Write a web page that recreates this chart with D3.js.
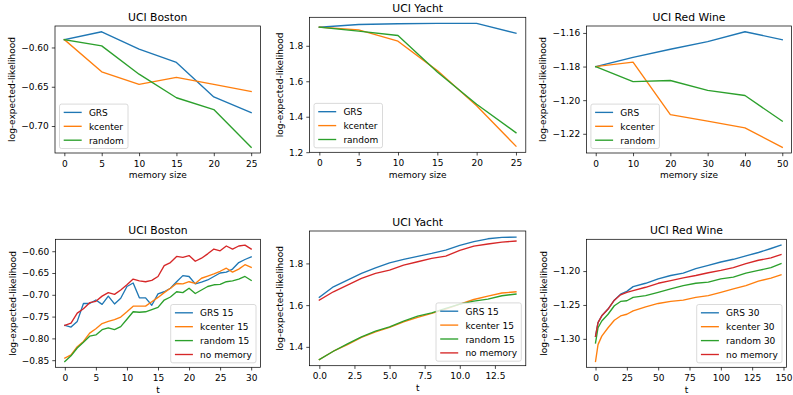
<!DOCTYPE html>
<html>
<head>
<meta charset="utf-8">
<script src="https://cdn.jsdelivr.net/npm/d3@7"></script>
<style>
body{margin:0;background:#fff}
text{font-family:"DejaVu Sans",sans-serif;fill:#000}
</style>
</head>
<body>
<svg id="chart" width="793" height="395"></svg>
<script>

// top row: memory size sweeps
let memBoston = [0, 5, 10, 15, 20, 25]
let memYacht = [0, 5, 10, 15, 20, 25]
let memWine = [0, 10, 20, 30, 40, 50]

let bostonMemGRS = [-0.590, -0.580, -0.602, -0.619, -0.663, -0.683]
let bostonMemKcenter = [-0.590, -0.631, -0.647, -0.638, -0.647, -0.656]
let bostonMemRandom = [-0.590, -0.598, -0.634, -0.664, -0.679, -0.727]

let yachtMemGRS = [1.905, 1.920, 1.924, 1.926, 1.926, 1.871]
let yachtMemKcenter = [1.905, 1.890, 1.826, 1.660, 1.462, 1.234]
let yachtMemRandom = [1.905, 1.883, 1.858, 1.652, 1.470, 1.310]

let wineMemGRS = [-1.180, -1.1745, -1.1697, -1.1652, -1.1593, -1.164]
let wineMemKcenter = [-1.180, -1.1774, -1.2086, -1.2125, -1.2165, -1.228]
let wineMemRandom = [-1.180, -1.189, -1.1883, -1.1942, -1.1972, -1.2125]

// bottom row: over t
let bostonT = d3.range(0, 31)
let bostonGRS = [-0.770, -0.774, -0.761, -0.720, -0.720, -0.712, -0.722, -0.703, -0.721, -0.708, -0.681, -0.673, -0.707, -0.707, -0.724, -0.698, -0.693, -0.685, -0.670, -0.656, -0.658, -0.675, -0.671, -0.666, -0.658, -0.650, -0.648, -0.641, -0.626, -0.619, -0.613]
let bostonKcenter = [-0.845, -0.838, -0.819, -0.807, -0.788, -0.778, -0.766, -0.761, -0.757, -0.751, -0.739, -0.726, -0.726, -0.726, -0.716, -0.706, -0.695, -0.685, -0.674, -0.675, -0.670, -0.674, -0.662, -0.657, -0.652, -0.646, -0.639, -0.648, -0.641, -0.631, -0.637]
let bostonRandom = [-0.853, -0.840, -0.822, -0.809, -0.795, -0.792, -0.780, -0.776, -0.780, -0.773, -0.756, -0.739, -0.740, -0.739, -0.734, -0.729, -0.712, -0.705, -0.693, -0.695, -0.685, -0.697, -0.689, -0.681, -0.677, -0.676, -0.670, -0.668, -0.664, -0.658, -0.667]
let bostonNoMem = [-0.770, -0.765, -0.742, -0.732, -0.718, -0.715, -0.703, -0.695, -0.699, -0.689, -0.677, -0.664, -0.668, -0.670, -0.667, -0.658, -0.633, -0.626, -0.612, -0.614, -0.610, -0.623, -0.616, -0.606, -0.595, -0.599, -0.588, -0.595, -0.588, -0.586, -0.595]

let yachtT = d3.range(0, 15)
let yachtGRS = [1.637, 1.688, 1.720, 1.752, 1.779, 1.803, 1.819, 1.834, 1.848, 1.864, 1.886, 1.904, 1.918, 1.925, 1.926]
let yachtKcenter = [1.339, 1.379, 1.411, 1.445, 1.472, 1.493, 1.520, 1.541, 1.560, 1.581, 1.605, 1.627, 1.643, 1.658, 1.664]
let yachtRandom = [1.339, 1.379, 1.414, 1.448, 1.475, 1.496, 1.523, 1.547, 1.563, 1.584, 1.605, 1.619, 1.629, 1.645, 1.653]
let yachtNoMem = [1.624, 1.664, 1.696, 1.728, 1.752, 1.768, 1.792, 1.808, 1.824, 1.835, 1.862, 1.883, 1.893, 1.902, 1.907]

let wineT = [0, 2, 5, 10, 15, 20, 25, 30, 40, 50, 60, 70, 80, 90, 100, 110, 120, 130, 140, 148]
let wineGRS = [-1.296, -1.276, -1.266, -1.256, -1.243, -1.234, -1.230, -1.223, -1.218, -1.2114, -1.2065, -1.203, -1.1965, -1.1915, -1.1866, -1.1826, -1.1776, -1.1726, -1.1667, -1.1617]
let wineKcenter = [-1.3334, -1.3085, -1.296, -1.2836, -1.2726, -1.2662, -1.2637, -1.2587, -1.2527, -1.2478, -1.2448, -1.2428, -1.2388, -1.2363, -1.2313, -1.2264, -1.2214, -1.2149, -1.2104, -1.2055]
let wineRandom = [-1.306, -1.2836, -1.2736, -1.2637, -1.2512, -1.2448, -1.2438, -1.2388, -1.2363, -1.2313, -1.2264, -1.2214, -1.218, -1.2164, -1.2114, -1.209, -1.203, -1.199, -1.195, -1.189]
let wineNoMem = [-1.296, -1.276, -1.266, -1.256, -1.243, -1.235, -1.2313, -1.2289, -1.2239, -1.218, -1.214, -1.210, -1.2065, -1.2025, -1.199, -1.195, -1.189, -1.184, -1.1806, -1.1756]

// tick values
let ticksBostonMemY = [-0.70, -0.65, -0.60]
let ticksYachtMemY = [1.2, 1.4, 1.6, 1.8]
let ticksWineMemY = [-1.22, -1.20, -1.18, -1.16]
let ticksBostonTX = [0, 5, 10, 15, 20, 25, 30]
let ticksBostonTY = [-0.85, -0.80, -0.75, -0.70, -0.65, -0.60]
let ticksYachtTX = [0, 2.5, 5, 7.5, 10, 12.5]
let ticksYachtTY = [1.4, 1.6, 1.8]
let ticksWineTX = [0, 25, 50, 75, 100, 125, 150]
let ticksWineTY = [-1.30, -1.25, -1.20]

let memNames = ['GRS', 'kcenter', 'random']
let tNames15 = ['GRS 15', 'kcenter 15', 'random 15', 'no memory']
let tNames30 = ['GRS 30', 'kcenter 30', 'random 30', 'no memory']

let colors = ['#1f77b4', '#ff7f0e', '#2ca02c', '#d62728']

let svg = d3.select('#chart')

function pad(ext){
    let d = (ext[1] - ext[0]) * 0.05
    return [ext[0] - d, ext[1] + d]
}

let panels = [
    {title:'UCI Boston', xlabel:'memory size', x:memBoston, series:[bostonMemGRS, bostonMemKcenter, bostonMemRandom], names:memNames,
     box:[55, 260.5, 26, 153], xTicks:memBoston, yTicks:ticksBostonMemY, xFmt:d3.format('d'), yFmt:d3.format('.2f'), legend:'left'},
    {title:'UCI Yacht', xlabel:'memory size', x:memYacht, series:[yachtMemGRS, yachtMemKcenter, yachtMemRandom], names:memNames,
     box:[309.5, 525.8, 17.3, 152.3], xTicks:memYacht, yTicks:ticksYachtMemY, xFmt:d3.format('d'), yFmt:d3.format('.1f'), legend:'left'},
    {title:'UCI Red Wine', xlabel:'memory size', x:memWine, series:[wineMemGRS, wineMemKcenter, wineMemRandom], names:memNames,
     box:[586.4, 791.6, 26, 153], xTicks:memWine, yTicks:ticksWineMemY, xFmt:d3.format('d'), yFmt:d3.format('.2f'), legend:'left'},
    {title:'UCI Boston', xlabel:'t', x:bostonT, series:[bostonGRS, bostonKcenter, bostonRandom, bostonNoMem], names:tNames15,
     box:[55.5, 260.5, 239.3, 367.3], xTicks:ticksBostonTX, yTicks:ticksBostonTY, xFmt:d3.format('d'), yFmt:d3.format('.2f'), legend:'right'},
    {title:'UCI Yacht', xlabel:'t', x:yachtT, series:[yachtGRS, yachtKcenter, yachtRandom, yachtNoMem], names:tNames15,
     box:[309.5, 525.8, 231, 365.7], xTicks:ticksYachtTX, yTicks:ticksYachtTY, xFmt:d3.format('.1f'), yFmt:d3.format('.1f'), legend:'right'},
    {title:'UCI Red Wine', xlabel:'t', x:wineT, series:[wineGRS, wineKcenter, wineRandom, wineNoMem], names:tNames30,
     box:[586.5, 786.5, 239.3, 367.3], xTicks:ticksWineTX, yTicks:ticksWineTY, xFmt:d3.format('d'), yFmt:d3.format('.2f'), legend:'right',
     xDomain:[-7.2, 152.4]}
]

panels.forEach(function(p){

    let left = p.box[0], right = p.box[1], top = p.box[2], bottom = p.box[3]

    let x = d3.scaleLinear()
        .domain(p.xDomain || pad(d3.extent(p.x)))
        .range([left, right])

    let y = d3.scaleLinear()
        .domain(pad(d3.extent(p.series.flat())))
        .range([bottom, top])

    let g = svg.append('g')

    let line = d3.line()
        .x(function(d, i){ return x(p.x[i]) })
        .y(function(d){ return y(d) })

    g.selectAll('.series')
        .data(p.series)
        .enter()
        .append('path')
        .attr('d', line)
        .attr('fill', 'none')
        .attr('stroke', function(d, i){ return colors[i] })
        .attr('stroke-width', 1.35)
        .attr('stroke-linejoin', 'round')
        .attr('stroke-linecap', 'square')

    g.append('g')
        .attr('transform', 'translate(0,' + bottom + ')')
        .call(d3.axisBottom(x).tickValues(p.xTicks).tickFormat(p.xFmt).tickSize(3.2).tickPadding(4))

    let yAxis = g.append('g')
        .attr('transform', 'translate(' + left + ',0)')
        .call(d3.axisLeft(y).tickValues(p.yTicks).tickFormat(p.yFmt).tickSize(3.2).tickPadding(3))

    g.selectAll('.domain').remove()
    g.selectAll('.tick line').attr('stroke', '#000').attr('stroke-width', 0.72)
    g.selectAll('.tick text').attr('font-size', 9).attr('fill', '#000').attr('font-family', '"DejaVu Sans",sans-serif')

    // spines
    g.append('rect')
        .attr('x', left)
        .attr('y', top)
        .attr('width', right - left)
        .attr('height', bottom - top)
        .attr('fill', 'none')
        .attr('stroke', '#000')
        .attr('stroke-width', 0.72)

    g.append('text')
        .attr('x', (left + right) / 2)
        .attr('y', top - 5.4)
        .attr('text-anchor', 'middle')
        .attr('font-size', 10.8)
        .text(p.title)

    g.append('text')
        .attr('x', (left + right) / 2)
        .attr('y', bottom + 25.3)
        .attr('text-anchor', 'middle')
        .attr('font-size', 9)
        .text(p.xlabel)

    // bbox is local to the axis group, so shift by left
    let tickLeft = left + yAxis.node().getBBox().x

    g.append('text')
        .attr('transform', 'translate(' + (tickLeft - 3.6 - 5.6) + ',' + ((top + bottom) / 2) + ') rotate(-90)')
        .attr('text-anchor', 'middle')
        .attr('dominant-baseline', 'central')
        .attr('font-size', 9)
        .text('log-expected-likelihood')

    // legend
    let padIn = 4.2, rowH = 9.4, gap = 4.5, handle = 18, handleGap = 7.2

    let lg = g.append('g')

    let labels = lg.selectAll('.lbl')
        .data(p.names)
        .enter()
        .append('text')
        .attr('font-size', 9)
        .attr('dominant-baseline', 'central')
        .text(function(d){ return d })

    let textW = d3.max(labels.nodes(), function(n){ return n.getComputedTextLength() })

    let boxW = padIn * 2 + handle + handleGap + textW
    let boxH = 3.6 * 2 + p.names.length * rowH + (p.names.length - 1) * gap

    let bx = p.legend == 'left' ? left + 4.5 : right - 4.5 - boxW
    let by = bottom - 4.5 - boxH

    lg.insert('rect', 'text')
        .attr('x', bx)
        .attr('y', by)
        .attr('width', boxW)
        .attr('height', boxH)
        .attr('rx', 2)
        .attr('fill', '#fff')
        .attr('fill-opacity', 0.8)
        .attr('stroke', '#cccccc')
        .attr('stroke-width', 0.72)

    labels
        .attr('x', bx + padIn + handle + handleGap)
        .attr('y', function(d, i){ return by + 3.6 + i * (rowH + gap) + rowH / 2 + 0.5 })

    lg.selectAll('.handle')
        .data(p.names)
        .enter()
        .append('line')
        .attr('x1', bx + padIn)
        .attr('x2', bx + padIn + handle)
        .attr('y1', function(d, i){ return by + 3.6 + i * (rowH + gap) + rowH / 2 })
        .attr('y2', function(d, i){ return by + 3.6 + i * (rowH + gap) + rowH / 2 })
        .attr('stroke', function(d, i){ return colors[i] })
        .attr('stroke-width', 1.35)
})

</script>
</body>
</html>
